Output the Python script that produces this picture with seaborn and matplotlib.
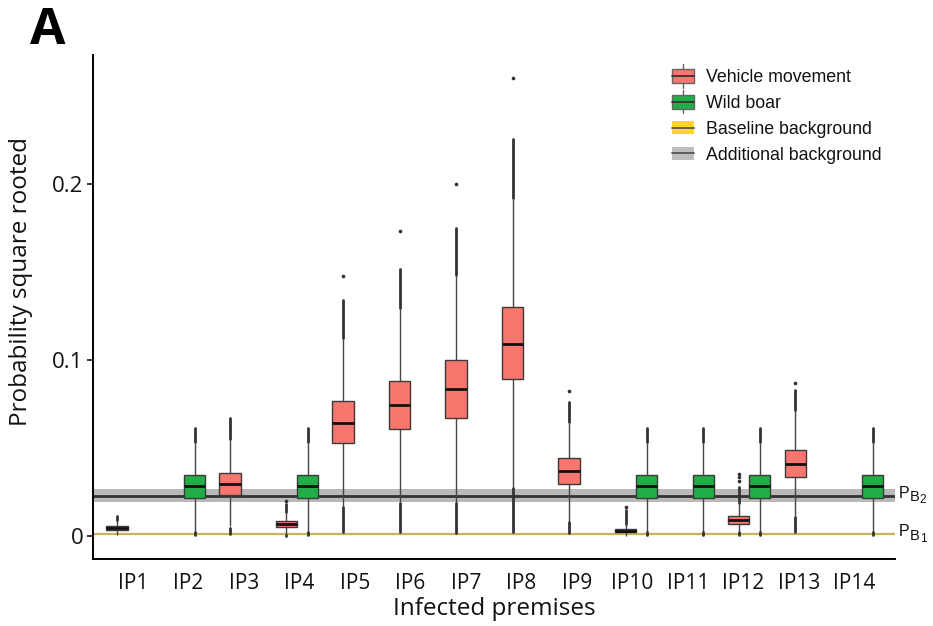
import numpy as np
import pandas as pd
import matplotlib
matplotlib.use("Agg")
import matplotlib.pyplot as plt
import seaborn as sns
from matplotlib.patches import Rectangle, Patch
from matplotlib.lines import Line2D
from matplotlib.legend_handler import HandlerBase

# ---------------- data ----------------
ip_labels = ["IP1", "IP2", "IP3", "IP4", "IP5", "IP6", "IP7", "IP8", "IP9",
             "IP10", "IP11", "IP12", "IP13", "IP14"]
sources = ["Vehicle movement", "Wild boar"]

box_ip = ["IP1", "IP2", "IP3", "IP4", "IP4", "IP5", "IP6", "IP7", "IP8", "IP9",
          "IP10", "IP10", "IP11", "IP12", "IP12", "IP13", "IP14"]
box_source = ["Vehicle movement", "Wild boar", "Vehicle movement", "Vehicle movement",
              "Wild boar", "Vehicle movement", "Vehicle movement", "Vehicle movement",
              "Vehicle movement", "Vehicle movement", "Vehicle movement", "Wild boar",
              "Wild boar", "Vehicle movement", "Wild boar", "Vehicle movement", "Wild boar"]

whisk_lo = [0.0004, 0.0024, 0.0055, 0.0008, 0.0024, 0.0170, 0.0195, 0.0190, 0.0280, 0.0085,
            0.0002, 0.0024, 0.0024, 0.0030, 0.0024, 0.0112, 0.0024]
q1 = [0.0034, 0.0214, 0.0233, 0.0053, 0.0214, 0.0527, 0.0606, 0.0672, 0.0892, 0.0297,
      0.0021, 0.0214, 0.0214, 0.0070, 0.0214, 0.0337, 0.0214]
median = [0.0045, 0.0284, 0.0297, 0.0070, 0.0284, 0.0644, 0.0743, 0.0834, 0.1090, 0.0368,
          0.0030, 0.0284, 0.0284, 0.0093, 0.0284, 0.0411, 0.0284]
q3 = [0.0057, 0.0345, 0.0358, 0.0085, 0.0345, 0.0767, 0.0882, 0.0998, 0.1303, 0.0441,
      0.0040, 0.0345, 0.0345, 0.0116, 0.0345, 0.0489, 0.0345]
whisk_hi = [0.0090, 0.0530, 0.0545, 0.0130, 0.0530, 0.1120, 0.1290, 0.1480, 0.1915, 0.0640,
            0.0065, 0.0530, 0.0530, 0.0180, 0.0530, 0.0715, 0.0530]

# dense runs of outliers (from, to) above and below the whiskers
upper_out_from = [0.0092, 0.0534, 0.0549, 0.0135, 0.0534, 0.1125, 0.1295, 0.1485, 0.1920, 0.0645,
                  0.0070, 0.0534, 0.0534, 0.0185, 0.0534, 0.0718, 0.0534]
upper_out_to = [0.0114, 0.0615, 0.0672, 0.0180, 0.0615, 0.1340, 0.1517, 0.1750, 0.2254, 0.0763,
                0.0150, 0.0615, 0.0615, 0.0280, 0.0615, 0.0830, 0.0615]
lower_out_from = [0.0000, 0.0004, 0.0010, 0.0000, 0.0004, 0.0020, 0.0024, 0.0017, 0.0025, 0.0019,
                  0.0000, 0.0004, 0.0004, 0.0003, 0.0004, 0.0024, 0.0004]
lower_out_to = [0.0000, 0.0020, 0.0045, 0.0004, 0.0020, 0.0165, 0.0190, 0.0185, 0.0275, 0.0080,
                0.0000, 0.0020, 0.0020, 0.0025, 0.0020, 0.0108, 0.0020]
# isolated extreme outliers: (box index, value)
single_out_box = [3, 5, 6, 7, 8, 9, 10, 13, 13, 13, 15]
single_out_val = [0.0199, 0.1480, 0.1733, 0.2002, 0.2604, 0.0826, 0.0167, 0.0310, 0.0335, 0.0352, 0.0868]

baseline_bg = 0.0011          # P_B1
additional_bg = 0.0229        # P_B2
additional_bg_lo = 0.0191
additional_bg_hi = 0.0269

y_ticks = [0.0, 0.1, 0.2]
y_tick_labels = ["0", "0.1", "0.2"]

# ---------------- style ----------------
sns.set_theme(style="white")
plt.rcParams["font.family"] = ["Open Sans", "DejaVu Sans"]

colors = {"Vehicle movement": "#F8766D", "Wild boar": "#22AE47"}
edge = "#3a3a3a"

fig = plt.figure(figsize=(9.33, 6.26), dpi=100)
ax = fig.add_axes([93 / 933, 67 / 626, 802 / 933, 504 / 626])

# long-form frame: five summary values per box reproduce the box statistics exactly
rows = []
for i in range(len(box_ip)):
    for v in (whisk_lo[i], q1[i], median[i], q3[i], whisk_hi[i]):
        rows.append({"ip": box_ip[i], "source": box_source[i], "value": v})
df = pd.DataFrame(rows)

# backgrounds
ax.axhspan(additional_bg_lo, additional_bg_hi, color="#b9b9b9", lw=0, zorder=0.5)
ax.axhline(additional_bg, color="#333333", lw=2.0, zorder=0.6)
ax.axhline(baseline_bg, color="#c8b25a", lw=1.6, zorder=0.6)

width = 0.75
sns.boxplot(data=df, x="ip", y="value", hue="source", order=ip_labels, hue_order=sources,
            palette=colors, saturation=1, width=width, dodge=True, whis=(0, 100),
            showfliers=False, showcaps=False, linewidth=1.0, linecolor=edge, legend=False,
            ax=ax, boxprops=dict(zorder=3),
            whiskerprops=dict(color="#444444", lw=1.0, zorder=2),
            medianprops=dict(color="#111111", lw=2.0, zorder=4))

# outliers
n_h = len(sources)
def xpos(i):
    c = ip_labels.index(box_ip[i])
    h = sources.index(box_source[i])
    return c + width * ((h + 0.5) / n_h - 0.5)

xs = [xpos(i) for i in range(len(box_ip))]
ax.vlines(xs, upper_out_from, upper_out_to, color="#333333", lw=2.0, zorder=2.5,
          capstyle="round")
ax.vlines(xs, lower_out_from, lower_out_to, color="#333333", lw=2.0, zorder=2.5,
          capstyle="round")
ax.scatter([xs[b] for b in single_out_box], single_out_val, s=7, color="#333333",
           zorder=2.5, lw=0)

# axes
ax.set_xlim(-0.611, 13.58)
ax.set_ylim(-0.0131, 0.2733)
ax.set_xticks(np.arange(len(ip_labels)) * 0.982 + 0.097)
ax.set_xticklabels(ip_labels)
ax.set_yticks(y_ticks)
ax.set_yticklabels(y_tick_labels)
for s in ("top", "right"):
    ax.spines[s].set_visible(False)
for s in ("left", "bottom"):
    ax.spines[s].set_color("black")
    ax.spines[s].set_linewidth(1.4)
ax.tick_params(axis="y", length=4, width=1.1, color="black", labelsize=16, pad=3,
               labelcolor="#111111", left=True)
ax.tick_params(axis="x", length=0, labelsize=15, pad=10, labelcolor="#111111")
ax.set_xlabel("Infected premises", fontsize=17.5, color="#111111", labelpad=2)
ax.set_ylabel("Probability square rooted", fontsize=17.5, color="#111111")
ax.yaxis.set_label_coords(-0.075, 0.55)
ax.grid(False)

# right-side labels P_B2 / P_B1
for v, sub in ((additional_bg, "2"), (baseline_bg, "1")):
    kw = dict(xy=(1, v), xycoords=("axes fraction", "data"), textcoords="offset points",
              va="center", ha="left", annotation_clip=False, color="#111111",
              family=["Liberation Sans", "DejaVu Sans"])
    ax.annotate("P", xytext=(3.0, 1.8), fontsize=11.5, **kw)
    ax.annotate("B", xytext=(10.8, -1.2), fontsize=10.5, **kw)
    ax.annotate(sub, xytext=(17.8, -3.4), fontsize=8.5, **kw)

# legend
class BoxGlyph(HandlerBase):
    def create_artists(self, legend, orig_handle, xdescent, ydescent, width, height,
                       fontsize, trans):
        fc = orig_handle.get_facecolor()
        x0, y0 = -xdescent, -ydescent
        cx, cy = x0 + width / 2, y0 + height / 2
        bh = 10.0
        wt = Line2D([cx, cx], [cy + bh / 2, cy + bh / 2 + 3.5], color="#666666", lw=1,
                    transform=trans)
        wb = Line2D([cx, cx], [cy - bh / 2, cy - bh / 2 - 3.5], color="#666666", lw=1,
                    transform=trans)
        r = Rectangle((x0, cy - bh / 2), width, bh, facecolor=fc, edgecolor="#666666",
                      lw=1, transform=trans)
        m = Line2D([x0, x0 + width], [cy, cy], color="#333333", lw=1.3, transform=trans)
        return [wt, wb, r, m]

class BandGlyph(HandlerBase):
    def create_artists(self, legend, orig_handle, xdescent, ydescent, width, height,
                       fontsize, trans):
        fc = orig_handle.get_facecolor()
        x0, y0 = -xdescent, -ydescent
        cy = y0 + height / 2
        bh = 9.0
        r = Rectangle((x0, cy - bh / 2), width, bh, facecolor=fc, edgecolor="none",
                      transform=trans)
        m = Line2D([x0, x0 + width], [cy, cy], color="#555555", lw=1.3, transform=trans)
        return [r, m]

h_vm = Patch(facecolor=colors["Vehicle movement"])
h_wb = Patch(facecolor=colors["Wild boar"])
h_bb = Patch(facecolor="#FFD42A")
h_ab = Patch(facecolor="#BEBEBE")
leg = fig.legend([h_vm, h_wb, h_bb, h_ab],
                 ["Vehicle movement", "Wild boar", "Baseline background", "Additional background"],
                 handler_map={h_vm: BoxGlyph(), h_wb: BoxGlyph(), h_bb: BandGlyph(), h_ab: BandGlyph()},
                 loc="upper left", bbox_to_anchor=(672 / 933, (626 - 69) / 626),
                 frameon=False, borderpad=0, borderaxespad=0, handlelength=1.25,
                 handletextpad=0.65, labelspacing=0.5,
                 prop={"family": ["Liberation Sans", "DejaVu Sans"], "size": 12.8})
for t in leg.get_texts():
    t.set_color("#111111")

fig.text(30 / 933, 1 - 44 / 626, "A", fontsize=37, fontweight="bold", color="black",
         ha="left", va="baseline")

fig.savefig("out.png", dpi=100)
